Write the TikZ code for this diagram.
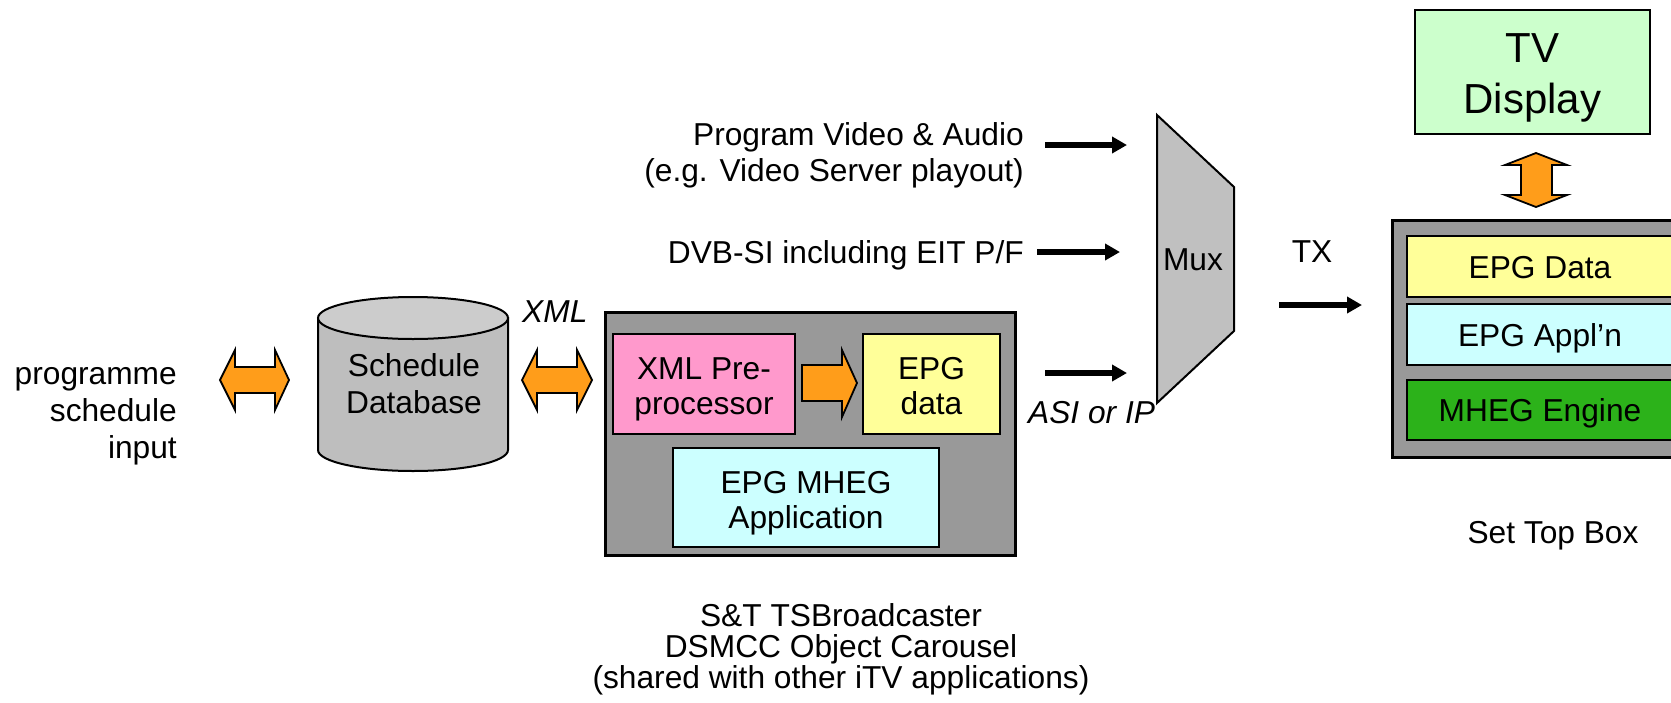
\documentclass[tikz,border=0pt]{standalone}
\usepackage{fontspec}
\setmainfont{Liberation Sans}
\usetikzlibrary{arrows.meta}
\definecolor{boxgray}{HTML}{999999}
\definecolor{pinkbox}{HTML}{FF99CC}
\definecolor{yellowbox}{HTML}{FFFF99}
\definecolor{cyanbox}{HTML}{CCFFFF}
\definecolor{lgreen}{HTML}{CCFFCC}
\definecolor{dgreen}{RGB}{44,178,26}
\definecolor{fatorange}{HTML}{FF9D1A}
\definecolor{muxgray}{HTML}{C0C0C0}
\definecolor{cyltop}{HTML}{CCCCCC}
\definecolor{cylbody}{HTML}{BEBEBE}
\newcommand\mytop[1]{\rule{0pt}{#1}}
\newcommand\mybot[1]{\rule[-#1]{0pt}{#1}}
\begin{document}
\begin{tikzpicture}[x=1pt,y=-1pt,
  txt/.style={font=\fontsize{31.7}{36}\selectfont, inner sep=0pt},
  outerbox/.style={draw=black, line width=3pt, fill=boxgray, inner sep=0pt},
  innerbox/.style={draw=black, line width=2.5pt, inner sep=0pt, align=center,
     font=\fontsize{31.7}{35}\selectfont},
  fat/.style={draw=black, line width=1.8pt, fill=fatorange, line join=miter},
  feed/.style={line width=5.5pt, -{Triangle[length=15pt,width=16pt]}}]
\useasboundingbox (0,0) rectangle (1671,702);
\clip (0,0) rectangle (1671,702);

% left input text
\node[txt, anchor=base east, align=right, font=\fontsize{31.7}{37}\selectfont] (input) at (177,458) {programme\\schedule\\input};

% fat double arrow left
\draw[fat] (220,380) -- (235,350) -- (235,367) -- (275,367) -- (275,350) -- (289,380)
  -- (275,410) -- (275,393) -- (235,393) -- (235,410) -- cycle;

% cylinder database
\fill[cylbody, draw=black, line width=2pt] (318,318) -- (318,450)
  arc[start angle=180, end angle=360, x radius=95pt, y radius=21pt] -- (508,318) -- cycle;
\draw[fill=cyltop, line width=2pt] (413,318) ellipse [x radius=95pt, y radius=21pt];
\node[txt, anchor=base, align=center, font=\fontsize{31.7}{37}\selectfont] (db) at (414,413) {Schedule\\Database};

% XML label and fat arrow
\node[txt, anchor=base west, font=\fontsize{31.7}{36}\selectfont\itshape] (xml) at (522,322) {XML};
\draw[fat] (522,380) -- (537,350) -- (537,367) -- (577,367) -- (577,350) -- (592,380)
  -- (577,410) -- (577,393) -- (537,393) -- (537,410) -- cycle;

% carousel box
\node[outerbox, minimum width=410pt, minimum height=243pt] (car) at (810,433.5) {};
\node[innerbox, fill=pinkbox, minimum width=182pt, minimum height=100pt] (pre) at (704,384)
  {\mytop{33pt}XML Pre-\\processor\mybot{7pt}};
\node[innerbox, fill=yellowbox, minimum width=137pt, minimum height=100pt] (epgd) at (931.5,384)
  {\mytop{33pt}EPG\\data\mybot{7pt}};
\node[innerbox, fill=cyanbox, minimum width=266pt, minimum height=99pt] (app) at (806,497.5)
  {\mytop{33pt}EPG MHEG\\Application\mybot{7pt}};
\draw[fat] (802,365) -- (842,365) -- (842,350) -- (857,383) -- (842,417) -- (842,401) -- (802,401) -- cycle;

\node[txt, anchor=base, align=center, font=\fontsize{31.7}{31}\selectfont] (carlabel) at (841,688)
  {S\&T TSBroadcaster\\DSMCC Object Carousel\\(shared with other iTV applications)};

% inputs to mux
\node[txt, anchor=base east, align=right, font=\fontsize{31.7}{36}\selectfont] (pva) at (1024,181)
  {Program Video \& Audio\\(e.g. Video Server playout)};
\node[txt, anchor=base east] (dvb) at (1024,263) {DVB-SI including EIT P/F};
\node[txt, anchor=base west, font=\fontsize{31.7}{36}\selectfont\itshape] (asi) at (1028,423) {ASI or IP};

% mux
\draw[fill=muxgray, line width=2pt] (1157,115) -- (1234,187) -- (1234,331) -- (1157,403) -- cycle;
\node[txt, anchor=base] (mux) at (1193,270) {Mux};

\coordinate (a1s) at (1045,145); \coordinate (a1e) at (1127,145);
\coordinate (a2s) at (1037,252); \coordinate (a2e) at (1120,252);
\coordinate (a3s) at (1045,373); \coordinate (a3e) at (1127,373);
\coordinate (txs) at (1279,305); \coordinate (txe) at (1362,305);
\draw[feed] (a1s) -- (a1e);
\draw[feed] (a2s) -- (a2e);
\draw[feed] (a3s) -- (a3e);
\draw[feed] (txs) -- (txe);
\node[txt, anchor=base] (tx) at (1312,262) {TX};

% TV display
\node[innerbox, line width=2pt, fill=lgreen, minimum width=235pt, minimum height=124pt,
  font=\fontsize{42}{51}\selectfont] (tv) at (1532.5,72) {\mytop{41pt}TV\\Display\mybot{10pt}};
\draw[fat] (1536,153) -- (1567,165) -- (1552,165) -- (1552,195) -- (1567,195) -- (1536,207)
  -- (1505,195) -- (1521,195) -- (1521,165) -- (1505,165) -- cycle;

% set top box
\node[outerbox, minimum width=298pt, minimum height=237pt] (stb) at (1541,338.5) {};
\node[innerbox, fill=yellowbox, minimum width=266pt, minimum height=61pt] (sdata) at (1540,266.5)
  {\mytop{30pt}EPG Data\mybot{7pt}};
\node[innerbox, fill=cyanbox, minimum width=266pt, minimum height=61pt] (sappl) at (1540,334.5)
  {\mytop{30pt}EPG Appl’n\mybot{7pt}};
\node[innerbox, fill=dgreen, minimum width=266pt, minimum height=60pt] (smheg) at (1540,410)
  {\mytop{30pt}MHEG Engine\mybot{7pt}};
\node[txt, anchor=base] (stblabel) at (1553,543) {Set Top Box};
\end{tikzpicture}
\end{document}
